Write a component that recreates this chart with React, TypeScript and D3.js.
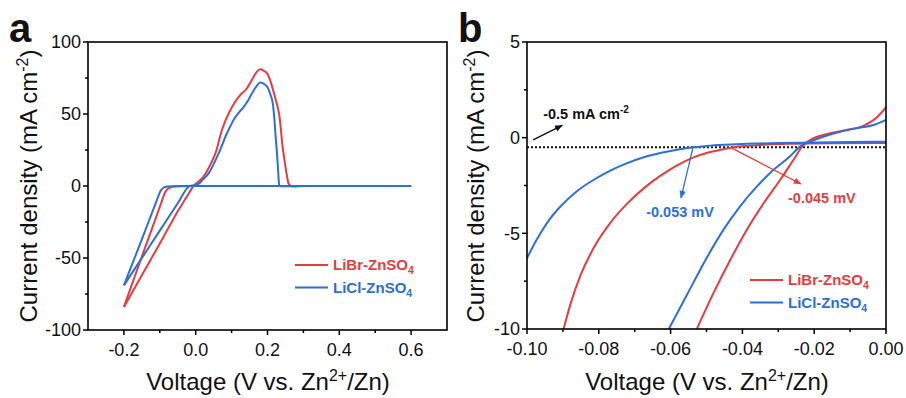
import React from 'react';
import * as d3 from 'd3';

const RED = '#e63c3f';
const BLUE = '#2b6fd8';
const FONT = "'Liberation Sans', Arial, Helvetica, sans-serif";

// ---------- Panel a : CV curves ----------
const aXTicks = [-0.2, 0.0, 0.2, 0.4, 0.6];
const aXMinor = [-0.1, 0.1, 0.3, 0.5];
const aYTicks = [100, 50, 0, -50, -100];
const aYMinor = [75, 25, -25, -75];

// LiBr-ZnSO4 cathodic sweep (0.6 V -> -0.2 V)
const librFwdV = [0.6, 0.3, 0.0, -0.05, -0.065, -0.075, -0.082, -0.088, -0.095, -0.12, -0.16, -0.2];
const librFwdJ = [0, 0, 0, -0.1, -0.5, -1.5, -3, -6, -11, -28.4, -56, -84];
// LiBr-ZnSO4 anodic sweep (-0.2 V -> 0.6 V)
const librRevV = [-0.2, -0.15, -0.1, -0.05, -0.025, -0.006, 0.005, 0.02, 0.035, 0.055, 0.073, 0.092, 0.11, 0.125, 0.14, 0.155, 0.168, 0.178, 0.19, 0.199, 0.208, 0.218, 0.226, 0.232, 0.237, 0.241, 0.246, 0.25, 0.255, 0.259, 0.265, 0.3, 0.6];
const librRevJ = [-84, -62, -40, -17.5, -7.5, 0, 2.5, 6, 12, 22.7, 38.9, 50.5, 58.5, 63.5, 67, 73, 78.5, 81, 80, 78.2, 73, 64.4, 57, 50.5, 40, 29.6, 20, 13.4, 6, 1.5, 0, 0, 0];

// LiCl-ZnSO4 cathodic sweep
const liclFwdV = [0.6, 0.3, 0.0, -0.06, -0.08, -0.09, -0.097, -0.103, -0.11, -0.15, -0.2];
const liclFwdJ = [0, 0, 0, -0.1, -0.4, -1.2, -3, -6.3, -11, -37, -69];
// LiCl-ZnSO4 anodic sweep
const liclRevV = [-0.2, -0.15, -0.1, -0.05, -0.02, -0.005, 0.008, 0.02, 0.036, 0.064, 0.087, 0.111, 0.134, 0.145, 0.157, 0.17, 0.179, 0.19, 0.199, 0.206, 0.213, 0.218, 0.222, 0.226, 0.229, 0.231, 0.233, 0.236, 0.3, 0.6];
const liclRevJ = [-69, -50, -31, -12, -0.5, 0.5, 1.5, 4.5, 8.8, 22.7, 36.6, 48.1, 55, 59, 64.4, 69.5, 71.8, 71, 69, 65, 59.7, 50, 36.6, 24, 13.4, 5, 0.5, 0, 0, 0];

// ---------- Panel b : zoomed polarization ----------
const bXTicks = [-0.1, -0.08, -0.06, -0.04, -0.02, 0.0];
const bXMinor = [-0.09, -0.07, -0.05, -0.03, -0.01];
const bYTicks = [5, 0, -5, -10];
const bYMinor = [2.5, -2.5, -7.5];

const librLeftV = [-0.0898, -0.0879, -0.0851, -0.0814, -0.0768, -0.0721, -0.0675, -0.0629, -0.0582, -0.0536, -0.05, -0.0453, -0.0425, -0.036, -0.027, -0.015, 0.0];
const librLeftJ = [-10, -8.7, -7.2, -5.75, -4.45, -3.45, -2.65, -2.0, -1.45, -1.03, -0.8, -0.6, -0.5, -0.39, -0.32, -0.29, -0.28];
const librRightV = [-0.0527, -0.0481, -0.0434, -0.0388, -0.0341, -0.0295, -0.0258, -0.023, -0.0202, -0.0156, -0.011, -0.0063, -0.0026, 0.0];
const librRightJ = [-10, -8.14, -6.39, -4.82, -3.43, -2.21, -1.17, -0.38, -0.03, 0.23, 0.4, 0.62, 1.05, 1.6];

const liclLeftV = [-0.1, -0.0972, -0.0944, -0.0907, -0.0861, -0.0814, -0.0768, -0.0721, -0.0675, -0.0629, -0.0582, -0.0536, -0.0499, -0.045, -0.04, -0.03, -0.02, -0.01, 0.0];
const liclLeftJ = [-6.3, -5.3, -4.45, -3.6, -2.8, -2.2, -1.72, -1.33, -1.02, -0.8, -0.63, -0.5, -0.43, -0.37, -0.33, -0.28, -0.25, -0.22, -0.21];
const liclRightV = [-0.0605, -0.0554, -0.05, -0.0453, -0.0407, -0.036, -0.0314, -0.0268, -0.024, -0.0212, -0.0175, -0.0128, -0.0082, -0.0035, 0.0];
const liclRightJ = [-10, -8.2, -6.3, -4.82, -3.6, -2.56, -1.69, -0.99, -0.47, -0.21, 0.05, 0.31, 0.49, 0.66, 0.93];

const refLevel = -0.5;

const zip = (xs: number[], ys: number[]) => xs.map((x, i) => [x, ys[i]] as [number, number]);

type Scale = d3.ScaleLinear<number, number>;

function Axes({ x, y, xTicks, xMinor, yTicks, yMinor, fmtX, fmtY }: {
  x: Scale; y: Scale; xTicks: number[]; xMinor: number[]; yTicks: number[]; yMinor: number[];
  fmtX: (v: number) => string; fmtY: (v: number) => string;
}) {
  const [x0, x1] = x.range();
  const [y0, y1] = y.range();
  return (
    <g>
      {xTicks.map((t) => (
        <g key={'xt' + t}>
          <line x1={x(t)} x2={x(t)} y1={y0} y2={y0 + 5} stroke="#000" strokeWidth={1.5} />
          <text x={x(t)} y={y0 + 26} textAnchor="middle" fontSize={18} fontFamily={FONT} fill="#111">{fmtX(t)}</text>
        </g>
      ))}
      {xMinor.map((t) => (
        <line key={'xm' + t} x1={x(t)} x2={x(t)} y1={y0} y2={y0 + 3} stroke="#000" strokeWidth={1.5} />
      ))}
      {yTicks.map((t) => (
        <g key={'yt' + t}>
          <line x1={x0 - 5} x2={x0} y1={y(t)} y2={y(t)} stroke="#000" strokeWidth={1.5} />
          <text x={x0 - 7} y={y(t)} dy="0.36em" textAnchor="end" fontSize={18} fontFamily={FONT} fill="#111">{fmtY(t)}</text>
        </g>
      ))}
      {yMinor.map((t) => (
        <line key={'ym' + t} x1={x0 - 3} x2={x0} y1={y(t)} y2={y(t)} stroke="#000" strokeWidth={1.5} />
      ))}
      <rect x={x0} y={y1} width={x1 - x0} height={y0 - y1} fill="none" stroke="#000" strokeWidth={1.6} />
    </g>
  );
}

function XTitle({ cx, y }: { cx: number; y: number }) {
  return (
    <text x={cx} y={y} textAnchor="middle" fontSize={24} fontFamily={FONT} fill="#111">
      Voltage (V vs. Zn<tspan dy={-9} fontSize={16}>2+</tspan><tspan dy={9}>/Zn)</tspan>
    </text>
  );
}

function YTitle({ x, cy }: { x: number; cy: number }) {
  return (
    <text transform={`translate(${x},${cy}) rotate(-90)`} textAnchor="middle" fontSize={24} fontFamily={FONT} fill="#111">
      Current density (mA cm<tspan dy={-9} fontSize={16}>-2</tspan><tspan dy={9}>)</tspan>
    </text>
  );
}

function Legend({ x, y }: { x: number; y: number }) {
  const items = [
    { name: 'LiBr-ZnSO', color: RED },
    { name: 'LiCl-ZnSO', color: BLUE },
  ];
  return (
    <g>
      {items.map((it, i) => (
        <g key={it.name} transform={`translate(${x},${y + i * 22.5})`}>
          <line x1={0} x2={33} y1={0} y2={0} stroke={it.color} strokeWidth={2} />
          <text x={38} y={0} dy="0.36em" fontSize={15} fontWeight="bold" fontFamily={FONT} fill={it.color}>
            {it.name}<tspan dy={4} fontSize={10.5}>4</tspan>
          </text>
        </g>
      ))}
    </g>
  );
}

export default function App() {
  // Panel a scales
  const ax = d3.scaleLinear().domain([-0.3, 0.7]).range([88, 447]);
  const ay = d3.scaleLinear().domain([-100, 100]).range([330, 42]);
  const lineA = d3.line<[number, number]>().x((d) => ax(d[0])).y((d) => ay(d[1])).curve(d3.curveCatmullRom.alpha(0.5));

  // Panel b scales
  const bx = d3.scaleLinear().domain([-0.1, 0.0]).range([527, 886]);
  const by = d3.scaleLinear().domain([-10, 5]).range([329, 42]);
  const lineB = d3.line<[number, number]>().x((d) => bx(d[0])).y((d) => by(d[1])).curve(d3.curveMonotoneX);

  const fmtA = (v: number) => (Math.abs(v) < 1e-9 ? '0.0' : d3.format('.1f')(v).replace('−', '-'));
  const fmtAY = (v: number) => String(v);
  const fmtB = (v: number) => (Math.abs(v) < 1e-9 ? '0.00' : d3.format('.2f')(v).replace('−', '-'));
  const fmtBY = (v: number) => String(v);

  return (
    <div style={{ position: 'absolute', left: 0, top: 0 }}>
      <svg width={906} height={398} viewBox="0 0 906 398" style={{ display: 'block', background: '#fff' }}>
        <defs>
          <marker id="arBlack" viewBox="0 0 10 10" refX={9} refY={5} markerWidth={8} markerHeight={8} markerUnits="userSpaceOnUse" orient="auto">
            <path d="M0,1 L10,5 L0,9 z" fill="#111" />
          </marker>
          <marker id="arBlue" viewBox="0 0 10 10" refX={9} refY={5} markerWidth={8} markerHeight={8} markerUnits="userSpaceOnUse" orient="auto">
            <path d="M0,1 L10,5 L0,9 z" fill={BLUE} />
          </marker>
          <marker id="arRed" viewBox="0 0 10 10" refX={9} refY={5} markerWidth={8} markerHeight={8} markerUnits="userSpaceOnUse" orient="auto">
            <path d="M0,1 L10,5 L0,9 z" fill={RED} />
          </marker>
          <clipPath id="clipB">
            <rect x={527} y={42} width={359} height={287} />
          </clipPath>
        </defs>

        {/* ---------- Panel a ---------- */}
        <text x={9} y={42} fontSize={40} fontWeight="bold" fontFamily={FONT} fill="#111">a</text>
        <g fill="none" strokeWidth={2}>
          <path d={lineA(zip(librFwdV, librFwdJ)) || ''} stroke={RED} />
          <path d={lineA(zip(librRevV, librRevJ)) || ''} stroke={RED} />
          <path d={lineA(zip(liclFwdV, liclFwdJ)) || ''} stroke={BLUE} />
          <path d={lineA(zip(liclRevV, liclRevJ)) || ''} stroke={BLUE} />
        </g>
        <Axes x={ax} y={ay} xTicks={aXTicks} xMinor={aXMinor} yTicks={aYTicks} yMinor={aYMinor} fmtX={fmtA} fmtY={fmtAY} />
        <Legend x={295} y={265} />
        <XTitle cx={268} y={390} />
        <YTitle x={37} cy={186} />

        {/* ---------- Panel b ---------- */}
        <text x={458} y={42} fontSize={40} fontWeight="bold" fontFamily={FONT} fill="#111">b</text>
        <g clipPath="url(#clipB)" fill="none" strokeWidth={2}>
          <line x1={bx(-0.1)} x2={bx(0)} y1={by(refLevel)} y2={by(refLevel)} stroke="#111" strokeWidth={2} strokeDasharray="2,2" />
          <path d={lineB(zip(librLeftV, librLeftJ)) || ''} stroke={RED} />
          <path d={lineB(zip(librRightV, librRightJ)) || ''} stroke={RED} />
          <path d={lineB(zip(liclLeftV, liclLeftJ)) || ''} stroke={BLUE} />
          <path d={lineB(zip(liclRightV, liclRightJ)) || ''} stroke={BLUE} />
        </g>
        <Axes x={bx} y={by} xTicks={bXTicks} xMinor={bXMinor} yTicks={bYTicks} yMinor={bYMinor} fmtX={fmtB} fmtY={fmtBY} />

        {/* annotations */}
        <line x1={bx(-0.0983)} y1={by(-0.12)} x2={bx(-0.0902)} y2={by(0.64)} stroke="#111" strokeWidth={1.4} markerEnd="url(#arBlack)" />
        <text x={bx(-0.0955)} y={by(0.98)} fontSize={14.5} fontWeight="bold" fontFamily={FONT} fill="#111">
          -0.5 mA cm<tspan dy={-6} fontSize={10}>-2</tspan>
        </text>
        <line x1={bx(-0.0538)} y1={by(-0.55)} x2={bx(-0.0571)} y2={by(-3.15)} stroke={BLUE} strokeWidth={1.3} markerEnd="url(#arBlue)" />
        <text x={bx(-0.0668)} y={by(-4.13)} fontSize={14.5} fontWeight="bold" fontFamily={FONT} fill={BLUE}>-0.053 mV</text>
        <line x1={bx(-0.0429)} y1={by(-0.55)} x2={bx(-0.0237)} y2={by(-2.42)} stroke={RED} strokeWidth={1.3} markerEnd="url(#arRed)" />
        <text x={bx(-0.0273)} y={by(-3.43)} fontSize={14.5} fontWeight="bold" fontFamily={FONT} fill={RED}>-0.045 mV</text>

        <Legend x={750} y={280} />
        <XTitle cx={707} y={390} />
        <YTitle x={484} cy={186} />
      </svg>
    </div>
  );
}
